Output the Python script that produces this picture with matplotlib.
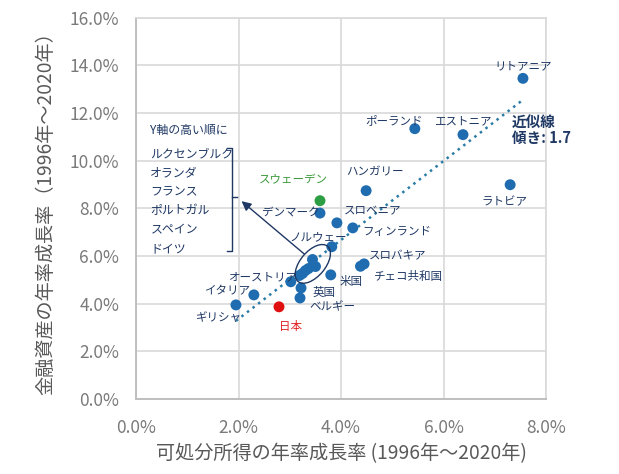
import numpy as np
import matplotlib
matplotlib.use('Agg')
import matplotlib.pyplot as plt
from matplotlib.patches import Ellipse
import matplotlib.transforms as mtransforms

plt.rcParams['font.family'] = ['Noto Sans CJK JP', 'DejaVu Sans']

# countries with a label: (income growth %, asset growth %)
names = ['リトアニア', 'ポーランド', 'エストニア', 'ハンガリー', 'ラトビア',
         'スウェーデン', 'デンマーク', 'スロベニア', 'フィンランド', 'ノルウェー',
         'スロバキア', 'チェコ共和国', '米国', 'オーストリア', '英国',
         'ベルギー', 'イタリア', 'ギリシャ', '日本']
income = [7.55, 5.44, 6.38, 4.49, 7.30,
          3.59, 3.59, 3.92, 4.23, 3.82,
          4.45, 4.38, 3.80, 3.02, 3.22,
          3.20, 2.30, 1.95, 2.79]
assets = [13.45, 11.34, 11.09, 8.74, 8.99,
          8.32, 7.80, 7.39, 7.18, 6.39,
          5.67, 5.57, 5.21, 4.92, 4.66,
          4.24, 4.37, 3.95, 3.87]

# cluster in the ellipse (listed in the text box)
group_names = ['ルクセンブルク', 'オランダ', 'フランス', 'ポルトガル', 'スペイン', 'ドイツ']
group_income = [3.43, 3.49, 3.36, 3.30, 3.24, 3.18]
group_assets = [5.88, 5.59, 5.50, 5.42, 5.30, 5.22]

# trend line end points
trend_x = [1.95, 7.52]
trend_y = [3.28, 12.50]

# label offsets in pixels (dx, dy)
offsets = [(0, 13), (-21, 8), (0, 14), (9, 19), (-6, -17),
           (-27, 21), (-29, 0), (36, 12), (44, -4), (-14, 10),
           (34, 8), (48, -10), (20, -7), (-28, 5), (23, -4),
           (32, -9), (-26, 4), (-17, -13), (12, -20)]

blue = '#1F6DB0'
navy = '#1F3864'

fig = plt.figure(figsize=(6.19, 4.74), dpi=100)
ax = fig.add_axes([0.2197, 0.158, 0.6624, 0.805])

ax.plot(trend_x, trend_y, linestyle=(0, (1, 1.8)), color='#2A7BA6', linewidth=1.8, zorder=2)

colors = [blue] * len(names)
colors[names.index('スウェーデン')] = '#2E9E44'
colors[names.index('日本')] = '#E01010'
ax.scatter(income, assets, s=62, c=colors, zorder=3, linewidths=0)
ax.scatter(group_income, group_assets, s=62, c=blue, zorder=3, linewidths=0)

for n, x, y, (dx, dy) in zip(names, income, assets, offsets):
    col = navy
    if n == 'スウェーデン':
        col = '#3C9A3C'
    elif n == '日本':
        col = '#E02020'
    ax.annotate(n, (x, y), xytext=(dx, dy), textcoords='offset pixels',
                ha='center', va='center', fontsize=8.3, color=col, zorder=4)

# ellipse around the cluster, sized in inches
tr = fig.dpi_scale_trans + mtransforms.ScaledTranslation(3.45, 5.67, ax.transData)
ax.add_patch(Ellipse((0, 0), 0.46, 0.25, angle=50, transform=tr,
                     fill=False, edgecolor=navy, linewidth=1, zorder=4))

# arrow to the list
ax.annotate('', xy=(2.06, 8.30), xytext=(3.28, 6.09),
            arrowprops=dict(arrowstyle='-|>', color=navy, lw=1,
                            mutation_scale=14, shrinkA=0, shrinkB=0), zorder=4)

# bracket
bx = 1.875
ax.plot([bx - 0.09, bx, bx, bx - 0.09], [10.55, 10.55, 6.22, 6.22],
        color=navy, linewidth=1, zorder=4)
ax.plot([bx, bx + 0.09], [8.49, 8.49], color=navy, linewidth=1, zorder=4)

ax.text(0.28, 11.25, 'Y軸の高い順に', fontsize=8.6, color=navy, va='center', ha='left')
for i, n in enumerate(group_names):
    ax.text(0.28, 10.30 - i * 0.80, n, fontsize=8.6, color=navy, va='center', ha='left')

ax.text(7.33, 11.28, '近似線\n傾き: 1.7', fontsize=10.5, fontweight='bold', color=navy,
        va='center', ha='left', linespacing=1.05)

ax.set_xlim(0, 8)
ax.set_ylim(0, 16)
ax.set_xticks(np.arange(0, 8.1, 2))
ax.set_yticks(np.arange(0, 16.1, 2))
ax.set_xticklabels(['%.1f%%' % v for v in np.arange(0, 8.1, 2)])
ax.set_yticklabels(['%.1f%%' % v for v in np.arange(0, 16.1, 2)])
ax.tick_params(length=0, labelsize=12.5, labelcolor='#7A7A7A')
ax.tick_params(axis='x', pad=14)
ax.tick_params(axis='y', pad=12)
ax.grid(True, color='#D9D9D9', linewidth=1.2)
ax.set_axisbelow(True)
for s in ['top', 'right']:
    ax.spines[s].set_color('#D9D9D9')
    ax.spines[s].set_linewidth(1.2)
for s in ['left', 'bottom']:
    ax.spines[s].set_color('#BFBFBF')
    ax.spines[s].set_linewidth(1.4)

ax.set_xlabel('可処分所得の年率成長率 (1996年～2020年)', fontsize=13.8, color='#595959', labelpad=5)
ax.set_ylabel('金融資産の年率成長率（1996年～2020年）', fontsize=13.8, color='#595959', labelpad=10)

fig.savefig('out.png', dpi=100)
